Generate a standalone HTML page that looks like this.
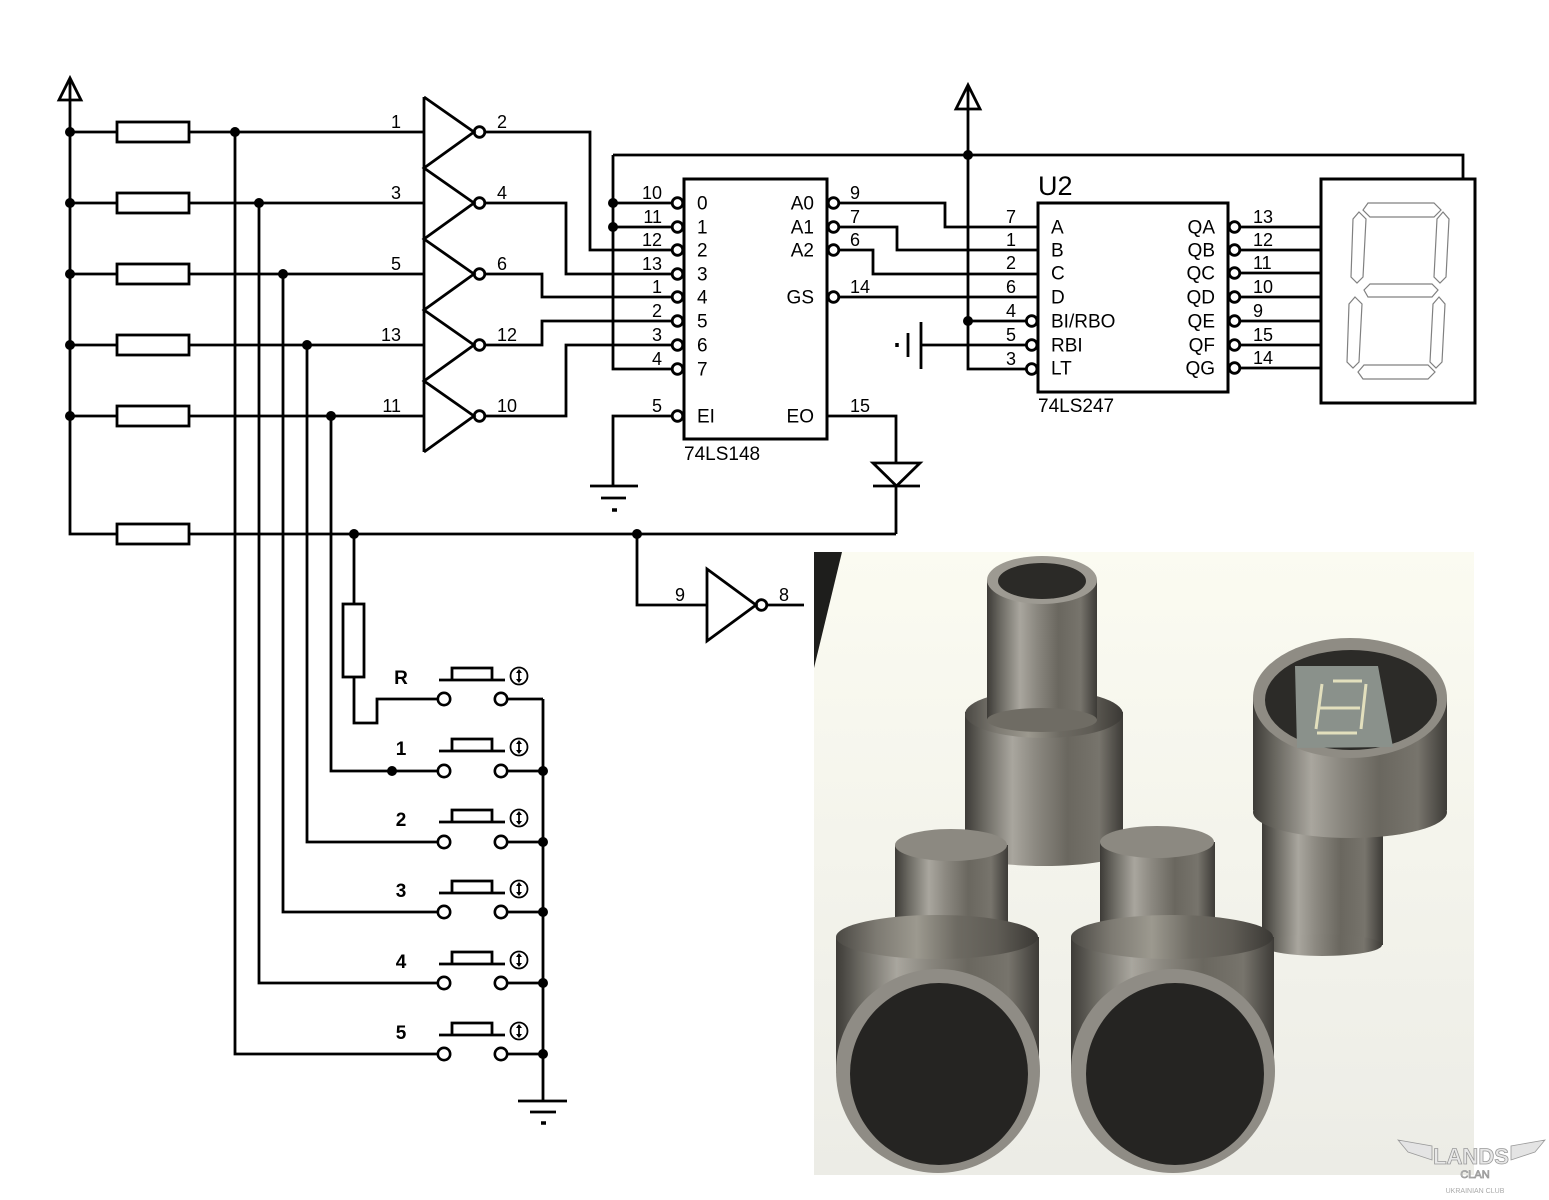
<!DOCTYPE html>
<html><head><meta charset="utf-8">
<style>
html,body{margin:0;padding:0;background:#fff;}
svg{display:block;}
text{font-family:"Liberation Sans",Arial,sans-serif;fill:#000;}
</style></head><body>
<svg width="1549" height="1200" viewBox="0 0 1549 1200" xmlns="http://www.w3.org/2000/svg">
<defs>
<linearGradient id="metal" x1="0" y1="0" x2="1" y2="0">
<stop offset="0" stop-color="#3d3b37"/>
<stop offset="0.12" stop-color="#6b6962"/>
<stop offset="0.3" stop-color="#a9a69e"/>
<stop offset="0.45" stop-color="#8b8880"/>
<stop offset="0.65" stop-color="#6a675f"/>
<stop offset="0.85" stop-color="#77746c"/>
<stop offset="1" stop-color="#3d3b37"/>
</linearGradient>
<linearGradient id="metal2" x1="0" y1="0" x2="1" y2="0">
<stop offset="0" stop-color="#4a4843"/>
<stop offset="0.2" stop-color="#7d7a72"/>
<stop offset="0.4" stop-color="#9c998f"/>
<stop offset="0.6" stop-color="#6d6a62"/>
<stop offset="0.8" stop-color="#5f5c55"/>
<stop offset="1" stop-color="#3a3834"/>
</linearGradient>
<linearGradient id="bg" x1="0" y1="0" x2="0" y2="1">
<stop offset="0" stop-color="#fbfbf1"/>
<stop offset="1" stop-color="#ececE6"/>
</linearGradient>
</defs>
<rect width="1549" height="1200" fill="#fff"/>

<g stroke="#000" stroke-width="2.8" fill="none">
<!-- power rail 1 -->
<polygon points="70,78 59,100 81,100"/>
<path d="M70 78 V534 H117 M189 534 H896"/>
<rect x="117" y="524" width="72" height="20"/>
<!-- rows -->
<path d="M70 132 H117 M189 132 H424 M70 203 H117 M189 203 H424 M70 274 H117 M189 274 H424 M70 345 H117 M189 345 H424 M70 416 H117 M189 416 H424"/>
<rect x="117" y="122" width="72" height="20"/>
<rect x="117" y="193" width="72" height="20"/>
<rect x="117" y="264" width="72" height="20"/>
<rect x="117" y="335" width="72" height="20"/>
<rect x="117" y="406" width="72" height="20"/>
<!-- verticals to switches -->
<path d="M235 132 V1054 H438 M259 203 V983 H438 M283 274 V912 H438 M307 345 V842 H438 M331 416 V771 H438"/>
<!-- gates -->
<path d="M424 97 V452"/>
<path d="M424 97 L474 132 L424 168 L474 203 L424 239 L474 274 L424 310 L474 345 L424 381 L474 416 L424 452"/>
<circle cx="479.5" cy="132" r="5.3"/>
<circle cx="479.5" cy="203" r="5.3"/>
<circle cx="479.5" cy="274" r="5.3"/>
<circle cx="479.5" cy="345" r="5.3"/>
<circle cx="479.5" cy="416" r="5.3"/>
<path d="M485 132 H590 V250 H672 M485 203 H566 V274 H672 M485 274 H542 V297 H672 M485 345 H542 V321 H672 M485 416 H566 V345 H672"/>
<!-- chip 1 -->
<rect x="684" y="179" width="143" height="260" stroke-width="3"/>
<circle cx="677.5" cy="203" r="5.3"/>
<circle cx="677.5" cy="227" r="5.3"/>
<circle cx="677.5" cy="250" r="5.3"/>
<circle cx="677.5" cy="274" r="5.3"/>
<circle cx="677.5" cy="297" r="5.3"/>
<circle cx="677.5" cy="321" r="5.3"/>
<circle cx="677.5" cy="345" r="5.3"/>
<circle cx="677.5" cy="369" r="5.3"/>
<circle cx="677.5" cy="416" r="5.3"/>
<circle cx="833.5" cy="203" r="5.3"/>
<circle cx="833.5" cy="227" r="5.3"/>
<circle cx="833.5" cy="250" r="5.3"/>
<circle cx="833.5" cy="297" r="5.3"/>
<path d="M613 155 V369 H672 M613 203 H672 M613 227 H672"/>
<path d="M672 416 H613 V486 M590 486 H638 M601 498 H626"/>
<path d="M612 510 H617" stroke-width="3.5"/>
<path d="M839 203 H945 V227 H1038 M839 227 H897 V250 H1038 M839 250 H873 V274 H1038 M839 297 H1038"/>
<path d="M827 416 H896 V463 M896 486 V534 M873 486 H920"/>
<polygon points="873,463 920,463 896.5,486"/>
<!-- VCC 2 -->
<polygon points="968,85 956,109 980,109"/>
<path d="M968 85 V369 H1026 M968 321 H1026 M921 345 H1026"/>
<path d="M921 322 V369 M908 333 V357"/>
<path d="M897 343 V347" stroke-width="3.5"/>
<path d="M613 155 H1463 V179"/>
<!-- U2 -->
<rect x="1038" y="203" width="190" height="189" stroke-width="3"/>
<circle cx="1031.7" cy="321" r="5.3"/>
<circle cx="1031.7" cy="345" r="5.3"/>
<circle cx="1031.7" cy="369" r="5.3"/>
<circle cx="1234.5" cy="227" r="5.3"/>
<circle cx="1234.5" cy="250" r="5.3"/>
<circle cx="1234.5" cy="273" r="5.3"/>
<circle cx="1234.5" cy="297" r="5.3"/>
<circle cx="1234.5" cy="321" r="5.3"/>
<circle cx="1234.5" cy="345" r="5.3"/>
<circle cx="1234.5" cy="368" r="5.3"/>
<path d="M1240 227 H1321 M1240 250 H1321 M1240 273 H1321 M1240 297 H1321 M1240 321 H1321 M1240 345 H1321 M1240 368 H1321"/>
<rect x="1321" y="179" width="154" height="224" stroke-width="3"/>
<!-- bottom gate -->
<path d="M637 534 V605 H707 M767 605 H804"/>
<polygon points="707,569 707,641 756,605"/>
<circle cx="761.5" cy="605" r="5.3"/>
<!-- R resistor -->
<path d="M354 534 V604 M354 677 V723 H377 V699 H438"/>
<rect x="343" y="604" width="21" height="73"/>
<!-- switches right side and bus -->
<path d="M507 699 H543 M507 771 H543 M507 842 H543 M507 912 H543 M507 983 H543 M507 1054 H543 M543 699 V1101 M518 1101 H567 M530 1112 H556"/>
<path d="M541 1123 H546" stroke-width="3.5"/>
<!-- switch tops -->
<path d="M439 680 H505 M452 680 V668 H492 V680"/>
<path d="M439 751 H505 M452 751 V739 H492 V751"/>
<path d="M439 822 H505 M452 822 V810 H492 V822"/>
<path d="M439 893 H505 M452 893 V881 H492 V893"/>
<path d="M439 964 H505 M452 964 V952 H492 V964"/>
<path d="M439 1035 H505 M452 1035 V1023 H492 V1035"/>
<!-- contacts -->
<g stroke-width="2.6">
<circle cx="444" cy="699" r="6.2"/><circle cx="501" cy="699" r="6.2"/>
<circle cx="444" cy="771" r="6.2"/><circle cx="501" cy="771" r="6.2"/>
<circle cx="444" cy="842" r="6.2"/><circle cx="501" cy="842" r="6.2"/>
<circle cx="444" cy="912" r="6.2"/><circle cx="501" cy="912" r="6.2"/>
<circle cx="444" cy="983" r="6.2"/><circle cx="501" cy="983" r="6.2"/>
<circle cx="444" cy="1054" r="6.2"/><circle cx="501" cy="1054" r="6.2"/>
</g>
<!-- icons -->
<g stroke-width="1.8">
<circle cx="519" cy="676" r="8.5"/><circle cx="519" cy="747" r="8.5"/><circle cx="519" cy="818" r="8.5"/>
<circle cx="519" cy="889" r="8.5"/><circle cx="519" cy="960" r="8.5"/><circle cx="519" cy="1031" r="8.5"/>
<path d="M519 672 V680 M519 743 V751 M519 814 V822 M519 885 V893 M519 956 V964 M519 1027 V1035"/>
</g>
</g>

<!-- icon arrowheads -->
<g fill="#000">
<path d="M516 673 L519 669 L522 673 Z M516 679 L519 683 L522 679 Z"/>
<path d="M516 744 L519 740 L522 744 Z M516 750 L519 754 L522 750 Z"/>
<path d="M516 815 L519 811 L522 815 Z M516 821 L519 825 L522 821 Z"/>
<path d="M516 886 L519 882 L522 886 Z M516 892 L519 896 L522 892 Z"/>
<path d="M516 957 L519 953 L522 957 Z M516 963 L519 967 L522 963 Z"/>
<path d="M516 1028 L519 1024 L522 1028 Z M516 1034 L519 1038 L522 1034 Z"/>
</g>

<!-- dots -->
<g fill="#000">
<circle cx="70" cy="132" r="5"/><circle cx="70" cy="203" r="5"/><circle cx="70" cy="274" r="5"/><circle cx="70" cy="345" r="5"/><circle cx="70" cy="416" r="5"/>
<circle cx="235" cy="132" r="5"/><circle cx="259" cy="203" r="5"/><circle cx="283" cy="274" r="5"/><circle cx="307" cy="345" r="5"/><circle cx="331" cy="416" r="5"/>
<circle cx="613" cy="203" r="5"/><circle cx="613" cy="227" r="5"/>
<circle cx="968" cy="155" r="5"/><circle cx="968" cy="321" r="5"/>
<circle cx="354" cy="534" r="5"/><circle cx="637" cy="534" r="5"/>
<circle cx="392" cy="771" r="5"/>
<circle cx="543" cy="771" r="5"/><circle cx="543" cy="842" r="5"/><circle cx="543" cy="912" r="5"/><circle cx="543" cy="983" r="5"/><circle cx="543" cy="1054" r="5"/>
</g>

<!-- 7-seg outlines -->
<g fill="none" stroke="#808080" stroke-width="1.2">
<polygon points="1368,203 1434,203 1441,210 1434,217 1370,217 1363,210"/>
<polygon points="1359,212 1366,219 1363,277 1357,283 1351,277 1353,219"/>
<polygon points="1443,212 1449,219 1446,277 1440,283 1434,277 1437,219"/>
<polygon points="1364,290 1370,284 1432,284 1438,290 1432,297 1368,297"/>
<polygon points="1355,297 1362,304 1359,362 1353,368 1347,362 1349,304"/>
<polygon points="1439,297 1445,304 1442,362 1436,368 1430,362 1433,304"/>
<polygon points="1358,372 1364,365 1428,365 1435,372 1428,379 1363,379"/>
</g>

<!-- labels -->
<g font-size="18">
<g text-anchor="end">
<text x="401" y="128">1</text><text x="401" y="199">3</text><text x="401" y="270">5</text><text x="401" y="341">13</text><text x="401" y="412">11</text>
<text x="662" y="199">10</text><text x="662" y="223">11</text><text x="662" y="246">12</text><text x="662" y="270">13</text>
<text x="662" y="293">1</text><text x="662" y="317">2</text><text x="662" y="341">3</text><text x="662" y="365">4</text><text x="662" y="412">5</text>
<text x="1016" y="223">7</text><text x="1016" y="246">1</text><text x="1016" y="269">2</text><text x="1016" y="293">6</text>
<text x="1016" y="317">4</text><text x="1016" y="341">5</text><text x="1016" y="365">3</text>
<text x="685" y="601">9</text>
</g>
<text x="497" y="128">2</text><text x="497" y="199">4</text><text x="497" y="270">6</text><text x="497" y="341">12</text><text x="497" y="412">10</text>
<text x="850" y="199">9</text><text x="850" y="223">7</text><text x="850" y="246">6</text><text x="850" y="293">14</text><text x="850" y="412">15</text>
<text x="1253" y="223">13</text><text x="1253" y="246">12</text><text x="1253" y="269">11</text><text x="1253" y="293">10</text>
<text x="1253" y="317">9</text><text x="1253" y="341">15</text><text x="1253" y="364">14</text>
<text x="779" y="601">8</text>
</g>
<g font-size="19">
<text x="697" y="209.5">0</text><text x="697" y="233.5">1</text><text x="697" y="256.5">2</text><text x="697" y="280.5">3</text>
<text x="697" y="303.5">4</text><text x="697" y="327.5">5</text><text x="697" y="351.5">6</text><text x="697" y="375.5">7</text>
<text x="697" y="422.5">EI</text>
<g text-anchor="end">
<text x="814" y="209.5">A0</text><text x="814" y="233.5">A1</text><text x="814" y="256.5">A2</text><text x="814" y="303.5">GS</text><text x="814" y="422.5">EO</text>
<text x="1215" y="233.5">QA</text><text x="1215" y="256.5">QB</text><text x="1215" y="279.5">QC</text><text x="1215" y="303.5">QD</text>
<text x="1215" y="327.5">QE</text><text x="1215" y="351.5">QF</text><text x="1215" y="374.5">QG</text>
</g>
<text x="1051" y="233.5">A</text><text x="1051" y="256.5">B</text><text x="1051" y="279.5">C</text><text x="1051" y="303.5">D</text>
<text x="1051" y="327.5">BI/RBO</text><text x="1051" y="351.5">RBI</text><text x="1051" y="374.5">LT</text>
<text x="684" y="460">74LS148</text>
<text x="1038" y="412">74LS247</text>
</g>
<text x="1038" y="195" font-size="27">U2</text>
<g font-size="19" font-weight="bold" text-anchor="middle">
<text x="401" y="684">R</text><text x="401" y="755">1</text><text x="401" y="826">2</text>
<text x="401" y="897">3</text><text x="401" y="968">4</text><text x="401" y="1039">5</text>
</g>

<!-- photo -->
<rect x="814" y="552" width="660" height="623" fill="url(#bg)"/>
<polygon points="814,552 842,552 828,610 814,668" fill="#1e1e1c"/>

<!-- back cylinder -->
<rect x="965" y="712" width="158" height="140" fill="url(#metal)"/>
<ellipse cx="1044" cy="852" rx="79" ry="14" fill="url(#metal)"/>
<ellipse cx="1044" cy="714" rx="79" ry="24" fill="url(#metal2)"/>
<rect x="987" y="580" width="110" height="140" fill="url(#metal)"/>
<ellipse cx="1042" cy="720" rx="55" ry="12" fill="#6f6c64"/>
<ellipse cx="1042" cy="580" rx="55" ry="24" fill="#9d9a92"/>
<ellipse cx="1042" cy="581" rx="44" ry="18" fill="#2b2a27"/>

<!-- right cylinder -->
<rect x="1262" y="800" width="121" height="145" fill="url(#metal)"/>
<ellipse cx="1322" cy="945" rx="60" ry="11" fill="url(#metal)"/>
<rect x="1253" y="698" width="194" height="112" fill="url(#metal)"/>
<ellipse cx="1350" cy="812" rx="97" ry="26" fill="url(#metal)"/>
<ellipse cx="1350" cy="698" rx="97" ry="60" fill="#8f8c84"/>
<ellipse cx="1351" cy="700" rx="86" ry="50" fill="#2c2b28"/>
<polygon points="1295,666 1378,666 1393,747 1297,748" fill="#8a918b"/>
<g fill="none" stroke="#e2dfbd" stroke-width="3">
<path d="M1333 681 H1362 M1322 684 L1316 729 M1366 684 L1361 729 M1320 708 H1360 M1317 733 H1357"/>
</g>

<!-- front-left cylinder -->
<rect x="895" y="845" width="113" height="95" fill="url(#metal)"/>
<ellipse cx="951" cy="845" rx="56" ry="16" fill="#8c8981"/>
<rect x="836" y="937" width="203" height="136" fill="url(#metal)"/>
<ellipse cx="937" cy="937" rx="101" ry="22" fill="url(#metal2)"/>
<ellipse cx="938" cy="1071" rx="102" ry="102" fill="#8f8c85"/>
<ellipse cx="939" cy="1074" rx="89" ry="91" fill="#252422"/>

<!-- front-middle cylinder -->
<rect x="1100" y="842" width="115" height="98" fill="url(#metal)"/>
<ellipse cx="1157" cy="842" rx="57" ry="16" fill="#8c8981"/>
<rect x="1071" y="937" width="203" height="136" fill="url(#metal)"/>
<ellipse cx="1172" cy="937" rx="101" ry="22" fill="url(#metal2)"/>
<ellipse cx="1173" cy="1071" rx="102" ry="102" fill="#8f8c85"/>
<ellipse cx="1175" cy="1074" rx="89" ry="91" fill="#252422"/>

<!-- logo -->
<g fill="#e4e4e4" stroke="#9a9a9a" stroke-width="0.8">
<path d="M1398 1140 L1432 1146 L1432 1160 L1408 1152 Z M1545 1140 L1511 1146 L1511 1160 L1535 1152 Z"/>
<text x="1471" y="1164" font-size="22" font-weight="bold" text-anchor="middle" style="fill:#e8e8e8">LANDS</text>
<text x="1475" y="1178" font-size="11" text-anchor="middle" style="fill:#e8e8e8">CLAN</text>
</g>
<text x="1475" y="1193" font-size="7" text-anchor="middle" style="fill:#aaa">UKRAINIAN CLUB</text>
</svg>
</body></html>
